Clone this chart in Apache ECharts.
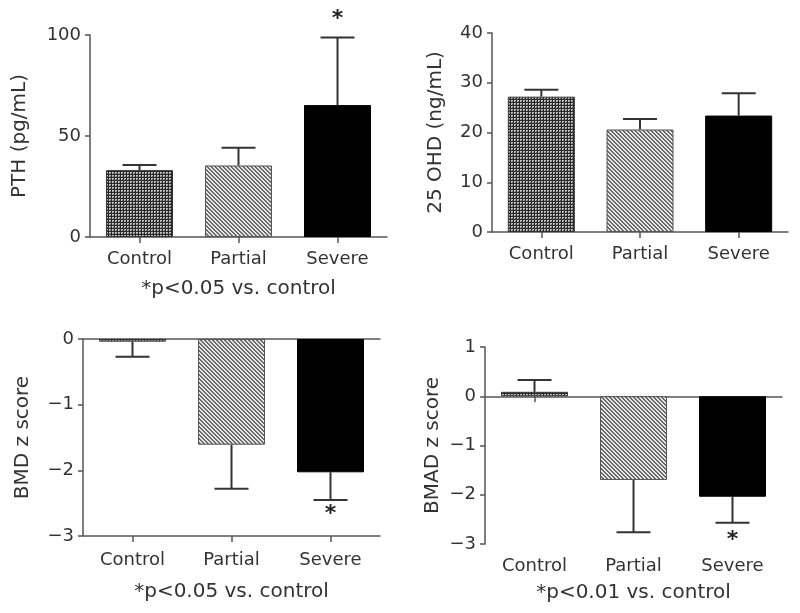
<!DOCTYPE html>
<html><head><meta charset="utf-8">
<script src="https://cdn.jsdelivr.net/npm/echarts@6/dist/echarts.min.js"></script>
<style>html,body{margin:0;padding:0;background:#fff}#c{width:800px;height:613px}</style>
</head><body><div id="c"></div>
<script>
const categories = ['Control', 'Partial', 'Severe'];
const pthMean = [33.1, 35.4, 65.3];
const pthErr = [35.6, 44.2, 98.8];
const pthStar = [false, false, true];
const ohdMean = [27.2, 20.6, 23.4];
const ohdErr = [28.6, 22.7, 27.9];
const ohdStar = [false, false, false];
const bmdMean = [-0.04, -1.61, -2.03];
const bmdErr = [-0.27, -2.28, -2.45];
const bmdStar = [false, false, true];
const bmadMean = [0.09, -1.70, -2.04];
const bmadErr = [0.33, -2.76, -2.57];
const bmadStar = [false, false, true];
const pthTicks = [0, 50, 100];
const ohdTicks = [0, 10, 20, 30, 40];
const bmdTicks = [-3, -2, -1, 0];
const bmadTicks = [-3, -2, -1, 0, 1];

function tile(w, h, draw) {
  const c = document.createElement('canvas'); c.width = w; c.height = h;
  const g = c.getContext('2d'); draw(g); return c;
}
const checkPat = tile(3, 3, g => {
  g.fillStyle = '#2a2a2a'; g.fillRect(0, 0, 3, 3);
  g.fillStyle = '#c0c0c0'; g.fillRect(1, 1, 2, 2);
  g.fillStyle = '#6a6a6a'; g.fillRect(2, 2, 1, 1);
});
const hatchPat = tile(4, 4, g => {
  g.fillStyle = '#e6e6e6'; g.fillRect(0, 0, 4, 4);
  g.fillStyle = '#6a6a6a';
  for (let i = 0; i < 4; i++) { g.fillRect(i, i, 1, 1); g.fillRect((i + 1) % 4, i, 1, 1); }
});
const fills = [
  { image: checkPat, repeat: 'repeat' },
  { image: hatchPat, repeat: 'repeat' },
  '#000'
];
const borders = ['#333', '#555', '#000'];

const FONT = 'DejaVu Sans';
const TXT = '#333';
const AX = '#555';

const grids = [
  { left: 90, top: 35, width: 297, height: 202 },
  { left: 492, top: 33, width: 296, height: 199 },
  { left: 83, top: 339, width: 297, height: 197 },
  { left: 485, top: 347, width: 297, height: 197 }
];

const minusFmt = v => String(v).replace('-', '\u2212');

function yAxis(gi, min, max, interval, name, gap) {
  return {
    type: 'value', gridIndex: gi, min, max, interval,
    name, nameLocation: 'middle', nameRotate: 90, nameGap: gap,
    nameTextStyle: { fontFamily: FONT, fontSize: 20, color: TXT },
    axisLine: { show: true, lineStyle: { color: AX, width: 1.5 } },
    axisTick: { show: true, length: 5, lineStyle: { color: AX, width: 1.5 } },
    axisLabel: { fontFamily: FONT, fontSize: 18, color: TXT, margin: 9, formatter: minusFmt },
    splitLine: { show: false }
  };
}
const catLabel = m => ({ fontFamily: FONT, fontSize: 18, color: TXT, margin: m });
function xAxis(gi, opts) {
  return Object.assign({
    type: 'category', gridIndex: gi, data: categories,
    axisLine: { show: true, onZero: false, lineStyle: { color: AX, width: 1.5 } },
    axisTick: { show: true, alignWithLabel: true, length: 6, lineStyle: { color: AX, width: 1.5 } },
    axisLabel: catLabel(13),
    nameLocation: 'middle',
    nameTextStyle: { fontFamily: FONT, fontSize: 20, color: TXT },
    splitLine: { show: false }
  }, opts);
}

function barSeries(idx, means) {
  return {
    type: 'bar', xAxisIndex: idx.x, yAxisIndex: idx.y, barWidth: 67,
    z: 2,
    data: means.map((v, i) => ({ value: v, itemStyle: { color: fills[i], borderColor: borders[i], borderWidth: 1 } })),
    silent: true, animation: false
  };
}
function errSeries(idx, means, errs, stars, starOffset) {
  return {
    type: 'custom', xAxisIndex: idx.x, yAxisIndex: idx.y, z: 1, animation: false, silent: true,
    data: means.map((m, i) => [i, m, errs[i], stars[i] ? 1 : 0]),
    renderItem: function (params, api) {
      const p0 = api.coord([api.value(0), api.value(1)]);
      const p1 = api.coord([api.value(0), api.value(2)]);
      const half = 17;
      const children = [
        { type: 'line', shape: { x1: p0[0], y1: p0[1], x2: p1[0], y2: p1[1] }, style: { stroke: '#333', lineWidth: 2 } },
        { type: 'line', shape: { x1: p1[0] - half, y1: p1[1], x2: p1[0] + half, y2: p1[1] }, style: { stroke: '#333', lineWidth: 2 } }
      ];
      if (api.value(3)) {
        children.push({ type: 'text', x: p1[0], y: p1[1] + starOffset, style: { text: '*', fontFamily: FONT, fontSize: 22, fontWeight: 'bold', fill: '#222', align: 'center', verticalAlign: 'middle' } });
      }
      return { type: 'group', children };
    }
  };
}

const chart = echarts.init(document.getElementById('c'), null, { renderer: 'canvas' });
const option = {
  backgroundColor: '#fff',
  animation: false,
  grid: grids,
  xAxis: [
    xAxis(0, { name: '*p<0.05 vs. control', nameGap: 42 }),
    xAxis(1, {}),
    xAxis(2, { name: '*p<0.05 vs. control', nameGap: 46, axisLabel: catLabel(15) }),
    xAxis(2, { position: 'top', axisTick: { show: false }, axisLabel: { show: false } }),
    xAxis(3, { axisLine: { show: true, onZero: true, lineStyle: { color: AX, width: 1.5 } }, axisLabel: { show: false } }),
    xAxis(3, { position: 'bottom', axisLine: { show: false, onZero: false }, axisTick: { show: false }, name: '*p<0.01 vs. control', nameGap: 39, axisLabel: catLabel(13) })
  ],
  yAxis: [
    yAxis(0, pthTicks[0], pthTicks[pthTicks.length - 1], 50, 'PTH (pg/mL)', 60),
    yAxis(1, ohdTicks[0], ohdTicks[ohdTicks.length - 1], 10, '25 OHD (ng/mL)', 46),
    yAxis(2, bmdTicks[0], bmdTicks[bmdTicks.length - 1], 1, 'BMD z score', 50),
    yAxis(3, bmadTicks[0], bmadTicks[bmadTicks.length - 1], 1, 'BMAD z score', 42)
  ],
  series: [
    barSeries({ x: 0, y: 0 }, pthMean),
    errSeries({ x: 0, y: 0 }, pthMean, pthErr, pthStar, -18),
    barSeries({ x: 1, y: 1 }, ohdMean),
    errSeries({ x: 1, y: 1 }, ohdMean, ohdErr, ohdStar, -18),
    barSeries({ x: 2, y: 2 }, bmdMean),
    errSeries({ x: 2, y: 2 }, bmdMean, bmdErr, bmdStar, 14),
    barSeries({ x: 4, y: 3 }, bmadMean),
    errSeries({ x: 4, y: 3 }, bmadMean, bmadErr, bmadStar, 17)
  ]
};
chart.setOption(option);
</script></body></html>
